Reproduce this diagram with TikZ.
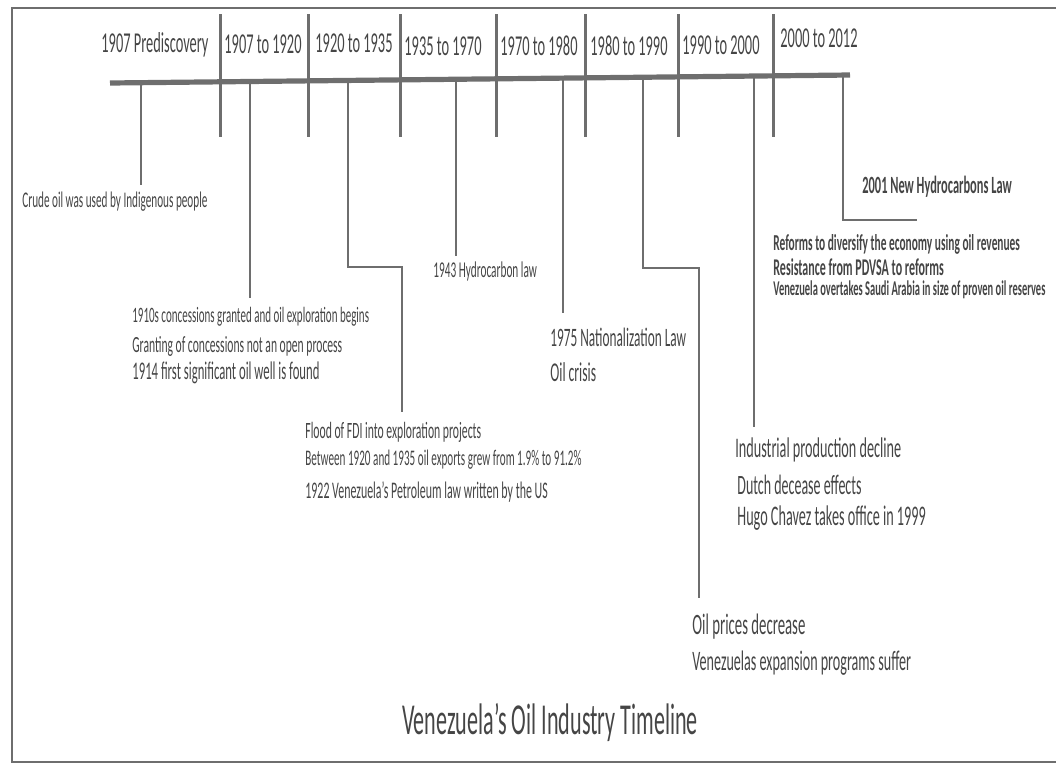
\documentclass[tikz,border=0pt]{standalone}
\usepackage{fontspec}
\setmainfont{Carlito}[FakeStretch=0.5]
\definecolor{ink}{HTML}{454545}
\definecolor{linegray}{HTML}{6E6E6E}

\begin{document}
\begin{tikzpicture}[x=0.5pt,y=-0.5pt,
		lbl/.style={anchor=west,inner sep=0pt,text=ink,font=\fontsize{#1}{#1}\selectfont},
		bld/.style={anchor=west,inner sep=0pt,text=ink,font=\fontsize{#1}{#1}\selectfont\bfseries},
		hdr/.style={anchor=base west,inner sep=0pt,text=ink,font=\fontsize{14.4}{15}\selectfont}]
		\useasboundingbox (0,0) rectangle (1056,773);
		\draw[linegray,line width=1.4pt] (1056,8) -- (12,8) -- (12,762) -- (1056,762);
		% timeline and period dividers
		\coordinate (L) at (110,83);
		\coordinate (R) at (850,75);
		\draw[linegray,line width=2.6pt] (L) -- (R);
		\foreach \x in {220,308,400,496,585,678,773}
			\draw[linegray,line width=1.5pt] (\x,14) -- (\x,137);
		\node[hdr] (p0) at (101,52) {1907 Prediscovery};
		\node[hdr] (p1) at (224,53) {1907 to 1920};
		\node[hdr] (p2) at (315,52) {1920 to 1935};
		\node[hdr] (p3) at (404,55) {1935 to 1970};
		\node[hdr] (p4) at (500,55) {1970 to 1980};
		\node[hdr] (p5) at (590,55) {1980 to 1990};
		\node[hdr] (p6) at (682,54) {1990 to 2000};
		\node[hdr] (p7) at (780,47) {2000 to 2012};
		% event lines
		\coordinate (A) at (141,83);  \coordinate (A1) at (141,185);
		\coordinate (B) at (250,82);  \coordinate (B1) at (250,298);
		\coordinate (C) at (348,80);  \coordinate (C1) at (348,267);
		\coordinate (C2) at (402,267); \coordinate (C3) at (402,412);
		\coordinate (D) at (456,79);  \coordinate (D1) at (456,256);
		\coordinate (E) at (563,78);  \coordinate (E1) at (563,313);
		\coordinate (F) at (643,77);  \coordinate (F1) at (643,268);
		\coordinate (F2) at (699,268); \coordinate (F3) at (699,598);
		\coordinate (G) at (754,76);  \coordinate (G1) at (754,427);
		\coordinate (H) at (843,75);  \coordinate (H1) at (843,220);
		\coordinate (H2) at (917,220);
		\draw[linegray,line width=1.2pt] (A) -- (A1);
		\draw[linegray,line width=1.2pt] (B) -- (B1);
		\draw[linegray,line width=1.2pt] (C) -- (C1) -- (C2) -- (C3);
		\draw[linegray,line width=1.2pt] (D) -- (D1);
		\draw[linegray,line width=1.2pt] (E) -- (E1);
		\draw[linegray,line width=1.2pt] (F) -- (F1) -- (F2) -- (F3);
		\draw[linegray,line width=1.2pt] (G) -- (G1);
		\draw[linegray,line width=1.2pt] (H) -- (H1) -- (H2);
		% event texts
		\node[lbl=11.2] (crude) at (22,202) {Crude oil was used by Indigenous people};
		\node[lbl=11.0] (conc1) at (132,317) {1910s concessions granted and oil exploration begins};
		\node[lbl=11.6] (conc2) at (132,346) {Granting of concessions not an open process};
		\node[lbl=12.7] (conc3) at (132,373) {1914 first significant oil well is found};
		\node[lbl=11.7] (fdi1) at (305,432) {Flood of FDI into exploration projects};
		\node[lbl=11.15] (fdi2) at (305,460) {Between 1920 and 1935 oil exports grew from 1.9\% to 91.2\%};
		\node[lbl=11.9] (fdi3) at (305,492) {1922 Venezuela's Petroleum law written by the US};
		\node[lbl=11.3] (law43) at (433,271) {1943 Hydrocarbon law};
		\node[lbl=13.3] (law75) at (550,337) {1975 Nationalization Law};
		\node[lbl=13.6] (crisis) at (550,372) {Oil crisis};
		\node[lbl=14.2] (ind1) at (735,450) {Industrial production decline};
		\node[lbl=14.0] (ind2) at (737,485) {Dutch decease effects};
		\node[lbl=14.2] (ind3) at (737,518) {Hugo Chavez takes office in 1999};
		\node[lbl=14.8] (pr1) at (692,627) {Oil prices decrease};
		\node[lbl=14.1] (pr2) at (692,663) {Venezuelas expansion programs suffer};
		\node[bld=12.4] (law01) at (862,187) {2001 New Hydrocarbons Law};
		\node[bld=11.4] (ref1) at (773,244) {Reforms to diversify the economy using oil revenues};
		\node[bld=12.0] (ref2) at (773,267) {Resistance from PDVSA to reforms};
		\node[bld=10.5] (ref3) at (773,290) {Venezuela overtakes Saudi Arabia in size of proven oil reserves};
		\node[lbl=22.1] (title) at (402,722) {Venezuela's Oil Industry Timeline};
	\end{tikzpicture}
\end{document}
